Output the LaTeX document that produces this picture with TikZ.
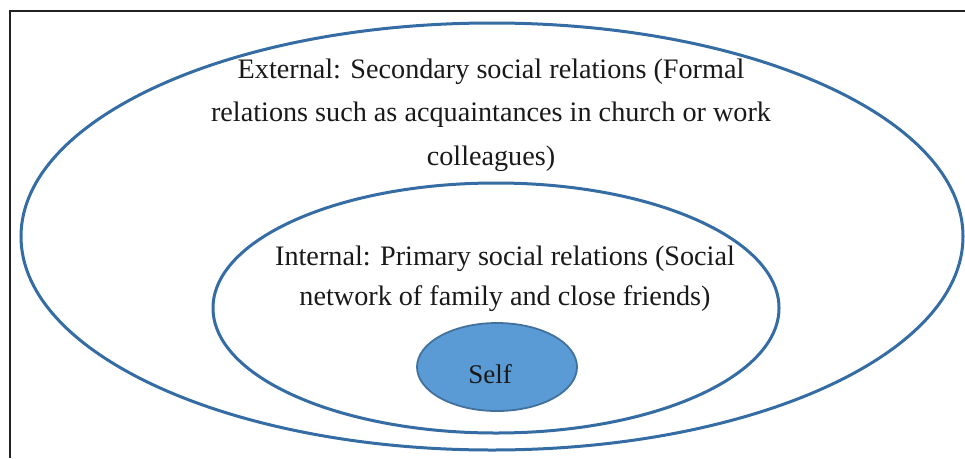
\documentclass[tikz,border=0pt]{standalone}
\usepackage{fontspec}
\setmainfont{Liberation Serif}
\usetikzlibrary{shapes.geometric}
\definecolor{ringblue}{RGB}{52,108,163}
\definecolor{selffill}{RGB}{91,155,213}
\definecolor{selfedge}{RGB}{65,113,156}
\definecolor{framegray}{RGB}{34,34,34}
\tikzset{
  ring/.style={ellipse, draw=ringblue, line width=3pt, inner sep=0pt, outer sep=0pt},
  selfshape/.style={ellipse, draw=selfedge, fill=selffill, line width=1.8pt, inner sep=0pt},
  txt/.style={font=\fontsize{28.2}{43.5}\selectfont, align=center, inner sep=0pt, text=black!90},
  framestyle/.style={draw=framegray, line width=1.4pt}
}
\begin{document}
\begin{tikzpicture}[x=1pt,y=-1pt]
\useasboundingbox (0,0) rectangle (965,458);
\coordinate (fbl) at (10,458);
\coordinate (ftl) at (10,11);
\coordinate (ftr) at (965,11);
\draw[framestyle] (fbl) -- (ftl) -- (ftr);
\node[ring, minimum width=942pt, minimum height=427pt] (outer) at (492,236.5) {};
\node[ring, minimum width=566pt, minimum height=250pt] (inner) at (496,308) {};
\node[selfshape, minimum width=160pt, minimum height=88pt] (self) at (497,367) {};
\node[txt, anchor=base] (exttext) at (491,165) {External: Secondary social relations (Formal\\relations such as acquaintances in church or work\\colleagues)};
\node[txt, anchor=base, font=\fontsize{28.2}{40}\selectfont] (inttext) at (505,305) {Internal: Primary social relations (Social\\network of family and close friends)};
\node[txt, anchor=base, font=\fontsize{27}{30}\selectfont] (selftext) at (490,383) {Self};
\end{tikzpicture}
\end{document}
